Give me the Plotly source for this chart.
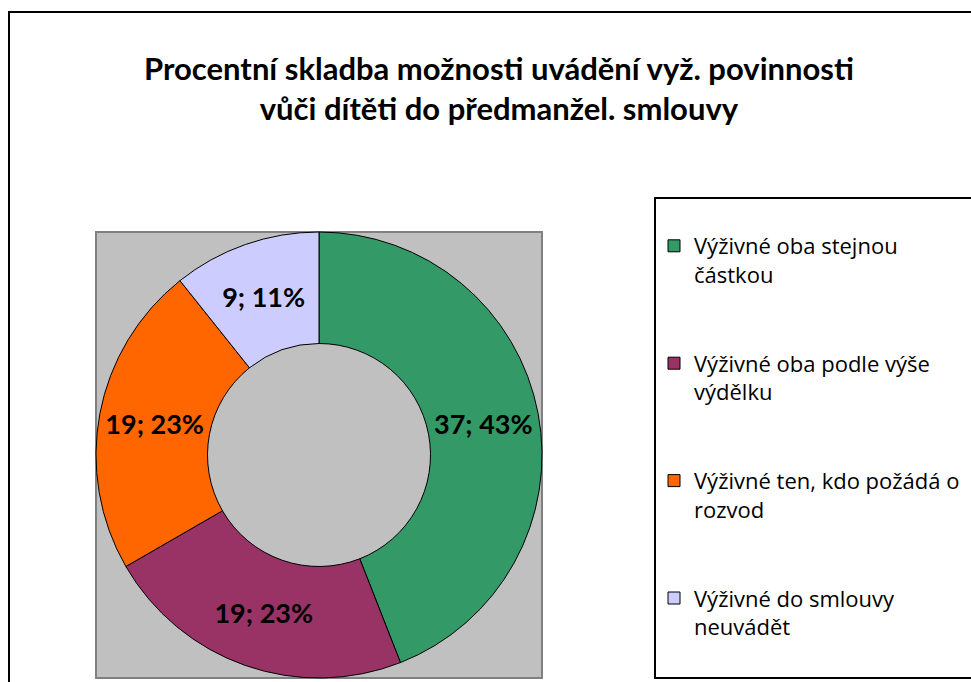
import plotly.graph_objects as go

W, H = 971, 682

categories = [
    "Výživné oba stejnou<br>částkou",
    "Výživné oba podle výše<br>výdělku",
    "Výživné ten, kdo požádá o<br>rozvod",
    "Výživné do smlouvy<br>neuvádět",
]
counts = [37, 19, 19, 9]
percent_labels = [43, 23, 23, 11]
colors = ["#339966", "#993366", "#FF6600", "#CCCCFF"]

title_text = "Procentní skladba možnosti uvádění vyž. povinnosti<br>vůči dítěti do předmanžel. smlouvy"

FONT = "Lato"
LEGEND_FONT = "Open Sans"


def px(x):
    return x / W


def py(y):
    return 1 - y / H


labels_text = [f"{c}; {p}%" for c, p in zip(counts, percent_labels)]
legend_names = [c + ("<br> <br> " if i < len(categories) - 1 else "")
                for i, c in enumerate(categories)]

fig = go.Figure()
fig.add_trace(go.Pie(
    labels=legend_names,
    values=counts,
    text=labels_text,
    texttemplate="%{text}",
    textinfo="text",
    textposition="inside",
    insidetextorientation="horizontal",
    textfont=dict(family=FONT, size=27, color="black", weight="bold"),
    hole=0.5,
    sort=False,
    direction="clockwise",
    rotation=0,
    marker=dict(colors=colors, line=dict(color="black", width=1)),
    domain=dict(x=[px(96), px(542)], y=[py(678), py(232)]),
    hoverinfo="label+value+percent",
))

shapes = [
    # outer chart frame
    dict(type="rect", xref="paper", yref="paper",
         x0=px(9), x1=px(W + 20), y0=py(H + 20), y1=py(12),
         line=dict(color="black", width=2), fillcolor="rgba(0,0,0,0)", layer="below"),
    # grey plot area
    dict(type="rect", xref="paper", yref="paper",
         x0=px(96), x1=px(542), y0=py(678), y1=py(232),
         line=dict(color="#808080", width=2), fillcolor="#C0C0C0", layer="below"),
    # legend frame
    dict(type="rect", xref="paper", yref="paper",
         x0=px(655), x1=px(W + 20), y0=py(678), y1=py(198),
         line=dict(color="black", width=2), fillcolor="white", layer="below"),
]

fig.update_layout(
    width=W, height=H, autosize=False,
    margin=dict(l=0, r=0, t=0, b=0, autoexpand=False),
    paper_bgcolor="white",
    plot_bgcolor="white",
    font=dict(family=FONT, color="black"),
    shapes=shapes,
    showlegend=True,
    legend=dict(
        x=px(654), xanchor="left",
        y=py(225), yanchor="top",
        valign="top",
        font=dict(family=LEGEND_FONT, size=22, color="black"),
        bgcolor="rgba(0,0,0,0)",
        borderwidth=0,
        traceorder="normal",
    ),
    annotations=[
        dict(text=title_text, xref="paper", yref="paper",
             x=px(499), y=py(88), xanchor="center", yanchor="middle",
             showarrow=False,
             font=dict(family=FONT, size=31, color="black", weight="bold")),
    ],
)

fig.write_html("out.html")
